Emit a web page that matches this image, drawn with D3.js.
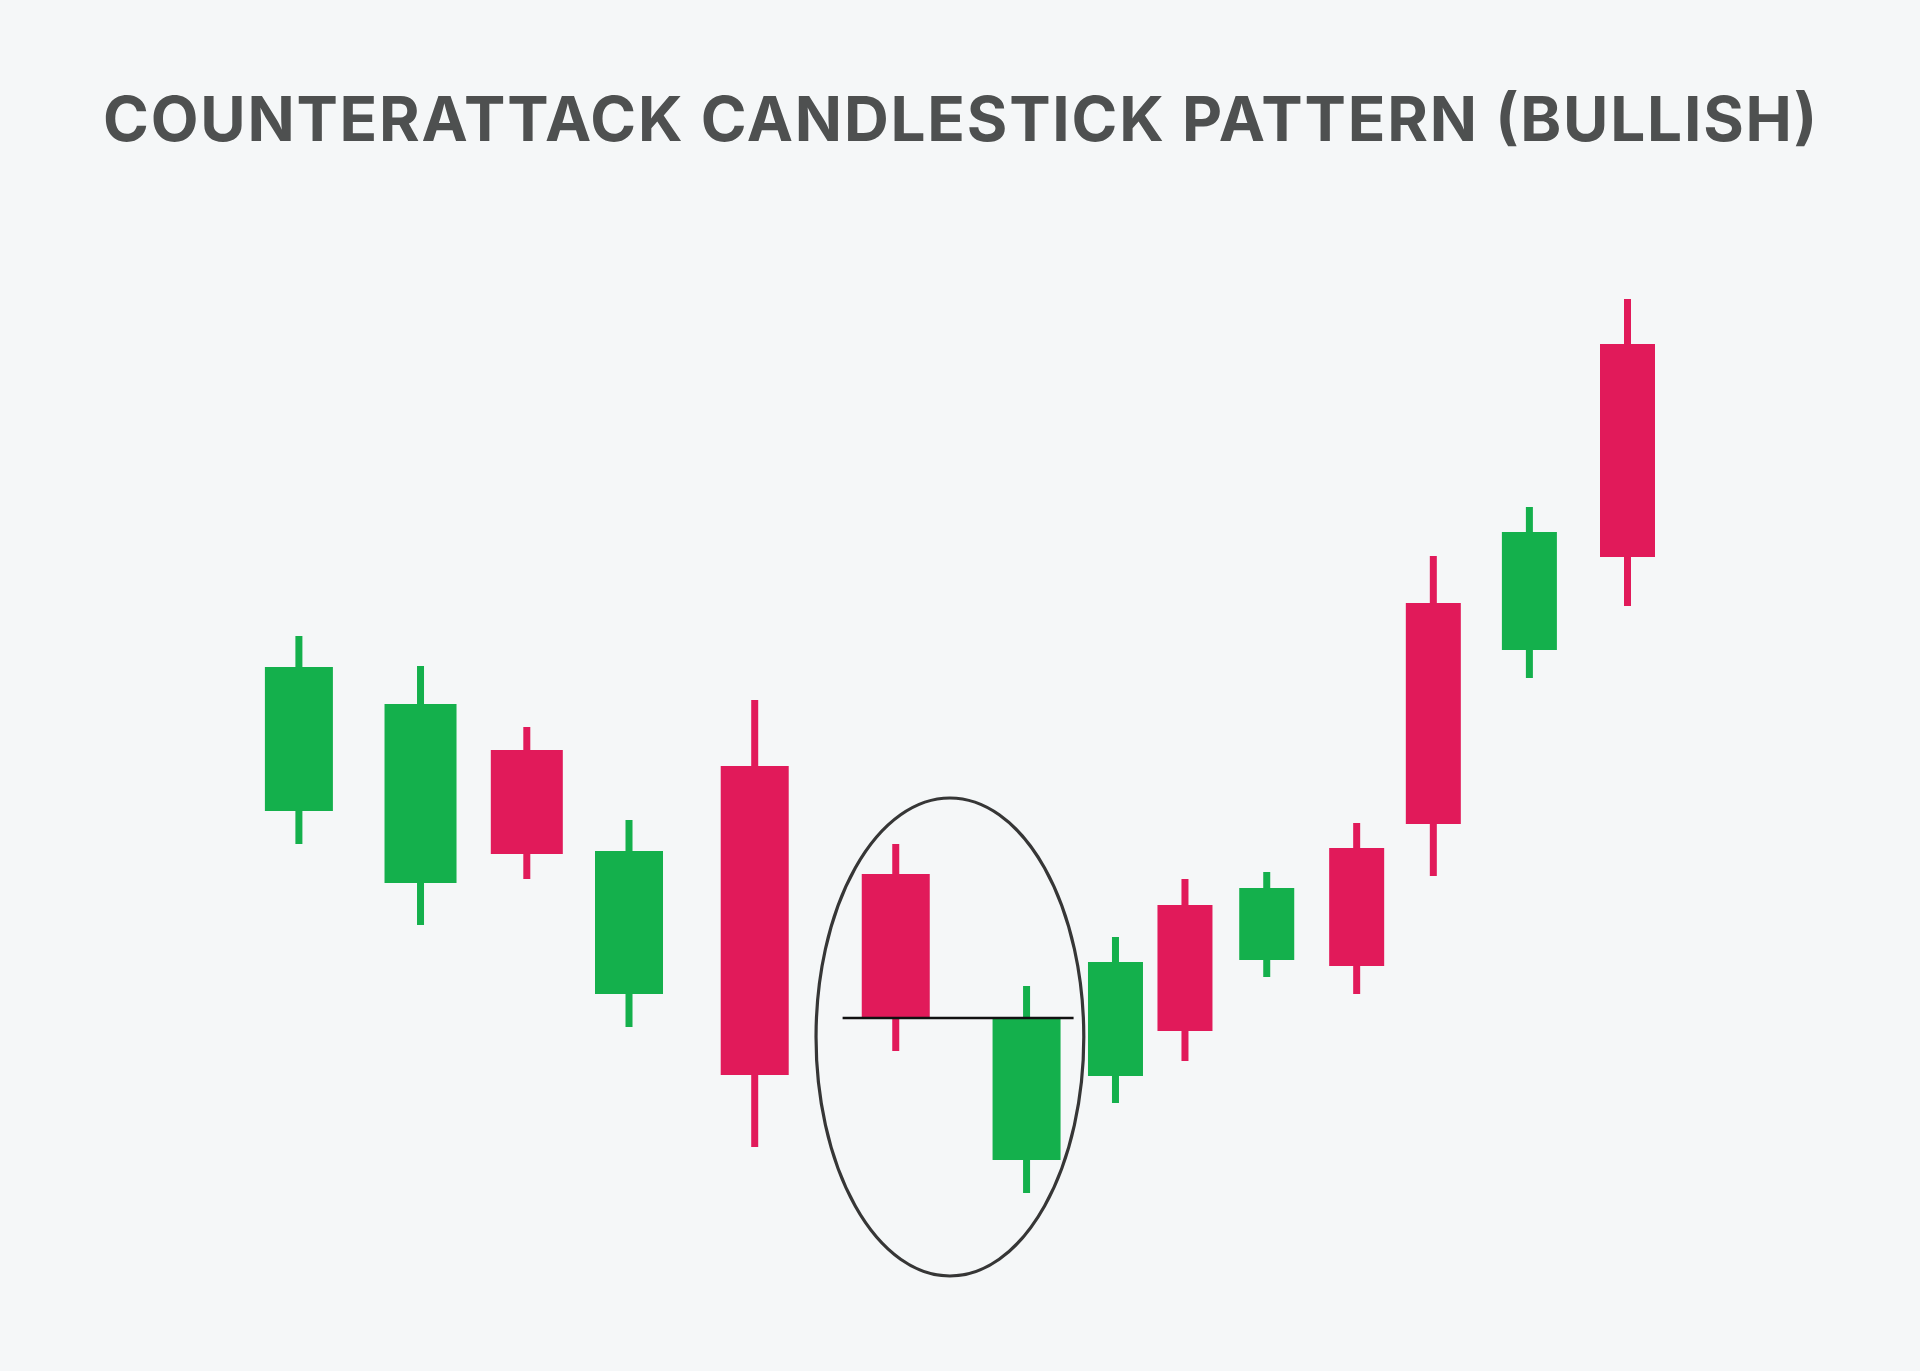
<!DOCTYPE html>
<html>
<head>
<meta charset="utf-8">
<script src="https://cdn.jsdelivr.net/npm/d3@7"></script>
<style>
  html, body { margin: 0; padding: 0; background: #f5f7f8; }
  svg { display: block; }
</style>
</head>
<body>
<svg id="chart" width="1920" height="1371"></svg>
<script>
// ---- data ----
const titleText = "COUNTERATTACK CANDLESTICK PATTERN (BULLISH)";
const categories = ["C1","C2","C3","C4","C5","C6","C7","C8","C9","C10","C11","C12","C13","C14"];
const times  = [0, 1.19, 2.23, 3.23, 4.46, 5.84, 7.12, 7.99, 8.67, 9.47, 10.35, 11.10, 12.04, 13.0];
const opens  = [48.9, 41.7, 55.0, 30.6, 53.4, 42.6, 14.0, 22.4, 39.5, 34.0, 45.2, 69.7, 65.0, 95.6];
const closes = [63.3, 59.6, 44.6, 44.9, 22.5, 28.2, 28.2, 33.8, 26.9, 41.2, 33.4, 47.6, 76.8, 74.3];
const highs  = [66.4, 63.4, 57.3, 48.0, 60.0, 45.6, 31.4, 36.3, 42.1, 42.8, 47.7, 74.4, 79.3, 100.1];
const lows   = [45.6, 37.5, 42.1, 27.3, 15.3, 24.9, 10.7, 19.7, 23.9, 32.3, 30.6, 42.4, 62.2, 69.4];
// pattern annotation (data units): candles 6 and 7
const patternLine = {t0: 5.32, t1: 7.58, price: 28.2};
const patternEllipse = {tc: 6.37, tHalf: 1.31, pc: 26.3, pHalf: 23.9};

// ---- drawing ----
const svg = d3.select("#chart");
const W = 1920, H = 1371;
svg.append("rect").attr("width", W).attr("height", H).attr("fill", "#f5f7f8");

const x = d3.scaleLinear().domain([0, 13]).range([298.9, 1627.5]);
const y = d3.scaleLinear().domain([0, 100]).range([1300, 300]);

const green = "#14b04c", red = "#e11a5a";
const candles = categories.map((c, i) => ({
  name: c, t: times[i], o: opens[i], c: closes[i], h: highs[i], l: lows[i], i
}));
const bodyW = i => (i === 1 || i === 2) ? 72 : (i <= 6 ? 68 : 55);

const g = svg.append("g");
const cg = g.selectAll("g.candle").data(candles).join("g").attr("class", "candle");

cg.append("rect") // wick
  .attr("x", d => x(d.t) - 3.5)
  .attr("width", 7)
  .attr("y", d => y(d.h))
  .attr("height", d => y(d.l) - y(d.h))
  .attr("fill", d => d.c >= d.o ? green : red);

cg.append("rect") // body
  .attr("x", d => x(d.t) - bodyW(d.i) / 2)
  .attr("width", d => bodyW(d.i))
  .attr("y", d => y(Math.max(d.o, d.c)))
  .attr("height", d => y(Math.min(d.o, d.c)) - y(Math.max(d.o, d.c)))
  .attr("fill", d => d.c >= d.o ? green : red);

// ellipse
g.append("ellipse")
  .attr("cx", x(patternEllipse.tc))
  .attr("cy", y(patternEllipse.pc))
  .attr("rx", x(patternEllipse.tc + patternEllipse.tHalf) - x(patternEllipse.tc))
  .attr("ry", y(patternEllipse.pc - patternEllipse.pHalf) - y(patternEllipse.pc))
  .attr("fill", "none")
  .attr("stroke", "#363636")
  .attr("stroke-width", 3.2);

// close line
g.append("line")
  .attr("x1", x(patternLine.t0)).attr("x2", x(patternLine.t1))
  .attr("y1", y(patternLine.price)).attr("y2", y(patternLine.price))
  .attr("stroke", "#111").attr("stroke-width", 2.5);

// title
const title = svg.append("text")
  .attr("x", W / 2).attr("y", 141)
  .attr("text-anchor", "middle")
  .attr("font-family", "Inter, 'Open Sans', sans-serif")
  .attr("font-weight", 700)
  .attr("font-size", 62)
  .attr("fill", "#4e5050")
  .text(titleText);
const natural = title.node().getComputedTextLength();
title.attr("textLength", 1714).attr("lengthAdjust", natural < 1600 ? "spacingAndGlyphs" : "spacing");
</script>
</body>
</html>
